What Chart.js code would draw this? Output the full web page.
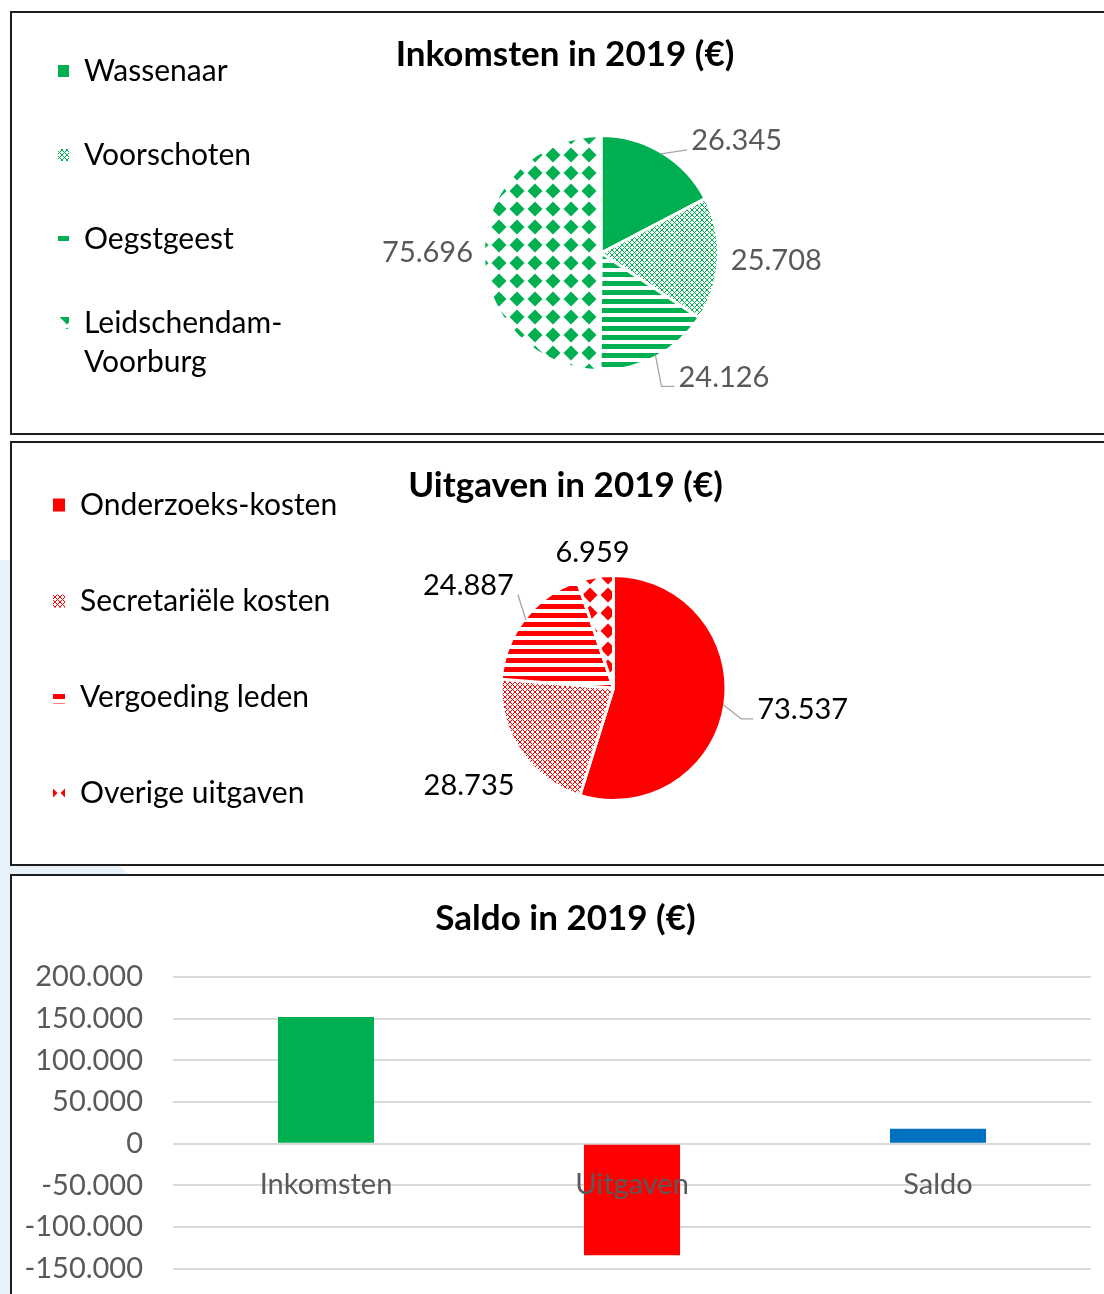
<!DOCTYPE html>
<html>
<head>
<meta charset="utf-8">
<script src="https://cdn.jsdelivr.net/npm/chart.js@4.4.1/dist/chart.umd.min.js"></script>
<style>
  html, body { margin: 0; padding: 0; background: #fff; }
  body { width: 1104px; height: 1294px; overflow: hidden; position: relative; }
  .panel { position: absolute; left: 10px; width: 1130px; box-sizing: border-box; border: 2px solid #1e1e1e; background: #fff; }
  canvas { position: absolute; }
  .tint { position: absolute; background: #e6f1f9; }
</style>
</head>
<body>
<div class="tint" style="left:0;top:560px;width:10px;height:734px"></div>
<div class="tint" style="left:0;top:864px;width:130px;height:12px;clip-path:polygon(0 0,118px 0,130px 100%,0 100%)"></div>
<div class="panel" style="top:11px;height:424px"></div>
<div class="panel" style="top:441px;height:425px"></div>
<div class="panel" style="top:874px;height:440px"></div>
<canvas id="inkomsten" width="1122" height="440" style="left:4px;top:2px"></canvas>
<canvas id="uitgaven" width="1157" height="470" style="left:-13px;top:424px"></canvas>
<canvas id="saldo" width="1107" height="440" style="left:12px;top:876px"></canvas>
<script>
// Data
const inkomstenLabels = ['Wassenaar', 'Voorschoten', 'Oegstgeest', 'Leidschendam-Voorburg'];
const inkomstenValues = [26345, 25708, 24126, 75696];
const uitgavenLabels = ['Onderzoeks-kosten', 'Secretariële kosten', 'Vergoeding leden', 'Overige uitgaven'];
const uitgavenValues = [73537, 28735, 24887, 6959];
const saldoLabels = ['Inkomsten', 'Uitgaven', 'Saldo'];
const saldoValues = [151875, -134118, 17757];

// Styles
const FONT = 'Lato';
const GREEN = '#00B050';
const RED = '#FF0000';
const BLUE = '#0070C0';
const FILL_KINDS = ['solid', 'lattice', 'stripes', 'diamonds'];

// label placement relative to the outer edge of each slice
const inkomstenPlace = [
  { dx: 30, dy: -13, align: 'left', line: true, elbow: 0 },
  { dx: 14, dy: 2, align: 'left' },
  { dx: 23, dy: 22, align: 'left', line: true, elbow: 13 },
  { dx: -12, dy: 0, align: 'right' },
];
const uitgavenPlace = [
  { dx: 34, dy: 5, align: 'left', line: true, elbow: 12 },
  { dx: -7, dy: 35, align: 'right' },
  { dx: -12, dy: -34, align: 'right', line: true, elbow: 0 },
  { dx: -3, dy: -26, align: 'center' },
];

const fmt = (v) => String(v).replace(/\B(?=(\d{3})+(?!\d))/g, '.');

function tile(size, draw) {
  const c = document.createElement('canvas');
  c.width = c.height = size;
  draw(c.getContext('2d'), size);
  return c.getContext('2d').createPattern(c, 'repeat');
}

function fillFor(kind, color) {
  if (kind === 'lattice') {
    return tile(5, (g, s) => {
      g.fillStyle = color;
      for (let y = 0; y < s; y++) {
        for (let x = 0; x < s; x++) {
          if ((x + y) % s === 0 || (x - y + s) % s === 0) g.fillRect(x, y, 1, 1);
        }
      }
    });
  }
  if (kind === 'stripes') {
    return tile(9, (g) => { g.fillStyle = color; g.fillRect(0, 0, 9, 5); });
  }
  if (kind === 'diamonds') {
    return tile(18, (g) => {
      g.fillStyle = color;
      g.beginPath();
      g.moveTo(9, 1.5); g.lineTo(16.5, 9); g.lineTo(9, 16.5); g.lineTo(1.5, 9);
      g.closePath();
      g.fill();
    });
  }
  return color;
}

// put the pie where the original plot area was, independent of the legend size
const plotArea = {
  id: 'plotArea',
  afterLayout(chart, args, opts) {
    const a = chart.chartArea;
    a.left = opts.cx - opts.half;
    a.right = opts.cx + opts.half;
    a.width = opts.half * 2;
    a.top = opts.cy - opts.half / 2;
    a.bottom = opts.cy + opts.half / 2;
    a.height = opts.half;
  },
};

const sliceLabels = {
  id: 'sliceLabels',
  afterDatasetsDraw(chart, args, opts) {
    const ctx = chart.ctx;
    const meta = chart.getDatasetMeta(0);
    const values = chart.data.datasets[0].data;
    ctx.save();
    ctx.font = `${opts.size}px ${FONT}`;
    ctx.textBaseline = 'middle';
    meta.data.forEach((arc, i) => {
      const p = arc.getProps(['x', 'y', 'startAngle', 'endAngle', 'outerRadius'], true);
      const mid = (p.startAngle + p.endAngle) / 2;
      const r = p.outerRadius - 1.5;
      const ax = p.x + Math.cos(mid) * r;
      const ay = p.y + Math.sin(mid) * r;
      const place = opts.place[i];
      const lx = ax + place.dx;
      const ly = ay + place.dy;
      if (place.line) {
        const side = place.align === 'left' ? -1 : 1;
        const ex = lx + side * 4;
        const ey = ly + 9;
        ctx.strokeStyle = '#a6a6a6';
        ctx.lineWidth = 1.3;
        ctx.beginPath();
        ctx.moveTo(ax, ay);
        ctx.lineTo(ex + side * place.elbow, ey);
        ctx.lineTo(ex, ey);
        ctx.stroke();
      }
      ctx.fillStyle = opts.color;
      ctx.textAlign = place.align;
      ctx.fillText(fmt(values[i]), lx, ly);
    });
    ctx.restore();
  },
};

function legendItems(chart) {
  const base = (Chart.overrides.pie || Chart.overrides.doughnut).plugins.legend.labels.generateLabels(chart);
  return base.map((item) => {
    let text = item.text;
    if (text.length > 18 && text.includes('-')) {
      const k = text.indexOf('-') + 1;
      text = [text.slice(0, k), text.slice(k)];
    }
    return { ...item, text, lineWidth: 0, strokeStyle: 'rgba(0,0,0,0)' };
  });
}

function pieChart(id, opt) {
  return new Chart(document.getElementById(id), {
    type: 'pie',
    data: {
      labels: opt.labels,
      datasets: [{
        data: opt.values,
        backgroundColor: FILL_KINDS.map((k) => fillFor(k, opt.color)),
        borderColor: '#ffffff',
        borderWidth: 3,
      }],
    },
    options: {
      responsive: false,
      animation: false,
      radius: opt.radius,
      plugins: {
        title: {
          display: true,
          text: opt.title,
          color: '#000',
          font: { family: FONT, size: 35, weight: 'bold' },
          padding: { top: opt.titleTop, bottom: 0 },
        },
        legend: {
          position: 'left',
          align: 'start',
          labels: {
            color: '#000',
            font: { family: FONT, size: 30, lineHeight: 1.3 },
            boxWidth: opt.boxW,
            boxHeight: opt.boxH,
            padding: opt.legendPad,
            generateLabels: legendItems,
          },
        },
        tooltip: { enabled: false },
        plotArea: { cx: opt.cx, cy: opt.cy, half: 300 },
        sliceLabels: { place: opt.place, color: opt.labelColor, size: 29 },
      },
    },
    plugins: [plotArea, sliceLabels],
  });
}

pieChart('inkomsten', {
  labels: inkomstenLabels,
  values: inkomstenValues,
  color: GREEN,
  title: 'Inkomsten in 2019 (€)',
  titleTop: 32,
  radius: 117.5,
  cx: 597,
  cy: 251,
  legendPad: 54,
  boxW: 11,
  boxH: 12,
  place: inkomstenPlace,
  labelColor: '#595959',
});

pieChart('uitgaven', {
  labels: uitgavenLabels,
  values: uitgavenValues,
  color: RED,
  title: 'Uitgaven in 2019 (€)',
  titleTop: 41,
  radius: 112.5,
  cx: 626.5,
  cy: 264,
  legendPad: 66,
  boxW: 12,
  boxH: 13,
  place: uitgavenPlace,
  labelColor: '#000000',
});

new Chart(document.getElementById('saldo'), {
  type: 'bar',
  data: {
    labels: saldoLabels,
    datasets: [{
      data: saldoValues,
      backgroundColor: [GREEN, RED, BLUE],
      barPercentage: 0.314,
      categoryPercentage: 1,
    }],
  },
  options: {
    responsive: false,
    animation: false,
    layout: { padding: 0 },
    plugins: {
      legend: { display: false },
      tooltip: { enabled: false },
      title: {
        display: true,
        text: 'Saldo in 2019 (€)',
        color: '#000',
        font: { family: FONT, size: 35, weight: 'bold' },
        padding: { top: 22, bottom: 37 },
      },
    },
    scales: {
      x: {
        position: { y: 0 },
        grid: { display: false, drawTicks: false },
        border: { display: false },
        ticks: { color: '#595959', padding: 23.6, z: 1, font: { family: FONT, size: 29 } },
      },
      y: {
        min: -150000,
        max: 200000,
        grid: { color: '#d9d9d9', lineWidth: 2, drawTicks: false },
        border: { display: false },
        ticks: {
          stepSize: 50000,
          padding: 30,
          color: '#595959',
          font: { family: FONT, size: 29 },
          callback: (v) => fmt(v),
        },
        afterFit(scale) { scale.width = 161; },
      },
      // empty right margin so the title stays centred on the whole frame
      margin: {
        position: 'right',
        grid: { display: false, drawTicks: false },
        border: { display: false },
        ticks: { display: false },
        afterFit(scale) { scale.width = 28; },
      },
    },
  },
});
</script>
</body>
</html>
